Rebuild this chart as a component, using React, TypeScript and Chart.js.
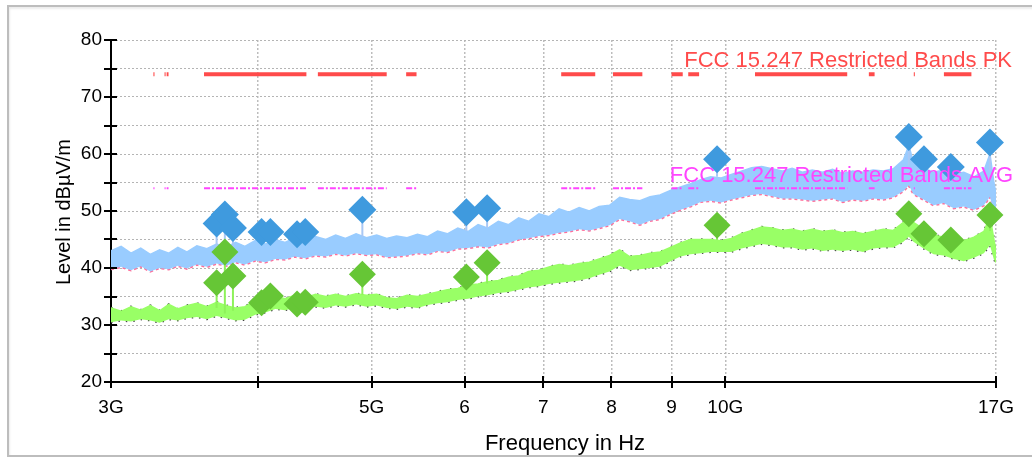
import React, { useEffect, useRef } from 'react';
import { Chart, registerables } from 'chart.js';

Chart.register(...registerables);

// Frequencies (GHz) for the measured traces
const freqs = [
  3.0, 3.06, 3.12, 3.18, 3.24, 3.3, 3.36, 3.42, 3.48, 3.55, 3.62, 3.69, 3.76, 3.83, 3.9, 3.98,
  4.06, 4.14, 4.22, 4.3, 4.39, 4.48, 4.57, 4.66, 4.75, 4.85, 4.95, 5.05, 5.15, 5.25, 5.36, 5.47,
  5.58, 5.69, 5.8, 5.92, 6.04, 6.16, 6.28, 6.41, 6.54, 6.67, 6.8, 6.94, 7.08, 7.22, 7.36, 7.51,
  7.66, 7.81, 7.97, 8.13, 8.29, 8.46, 8.63, 8.8, 8.98, 9.16, 9.34, 9.53, 9.72, 9.92, 10.12, 10.32,
  10.53, 10.74, 10.96, 11.18, 11.4, 11.63, 11.86, 12.1, 12.34, 12.59, 12.84, 13.1, 13.36, 13.63,
  13.9, 14.18, 14.33, 14.46, 14.75, 15.04, 15.34, 15.65, 15.96, 16.28, 16.6, 16.8, 16.93, 17.0,
];

// Peak trace (blue) upper / lower envelope, dBµV/m
const pkHigh = [
  43.0, 43.8, 42.6, 43.5, 42.4, 43.2, 42.6, 43.6, 42.8, 43.9, 43.4, 44.2, 43.6, 44.5, 43.8, 44.8,
  44.2, 45.0, 44.5, 45.3, 44.8, 45.5, 45.0, 45.8, 45.2, 46.0, 45.3, 45.8, 45.2, 45.6, 45.3, 45.9,
  45.5, 46.5, 46.0, 47.0, 46.4, 47.6, 47.0, 48.2, 47.6, 48.8, 48.2, 49.5, 49.0, 50.4, 49.8, 50.6,
  50.0, 50.8, 51.0, 52.4, 52.0, 51.8, 52.5, 52.8, 53.6, 54.2, 54.8, 55.5, 56.0, 55.8, 56.4, 57.0,
  57.6, 57.8, 57.4, 57.0, 57.5, 56.8, 57.2, 56.8, 57.3, 56.6, 57.0, 56.8, 57.2, 57.0,
  57.4, 59.0, 61.5, 58.5, 57.5, 56.8, 57.2, 56.5, 56.8, 56.0, 57.0, 60.0, 55.0, 53.0,
];
const pkLow = [
  39.8, 40.2, 39.6, 40.3, 39.4, 40.0, 39.8, 40.4, 39.9, 40.6, 40.2, 40.8, 40.4, 41.0, 40.6, 41.3,
  41.0, 41.6, 41.5, 42.0, 41.7, 42.2, 42.0, 42.5, 42.2, 42.6, 42.3, 42.4, 41.9, 42.0, 42.2, 42.6,
  42.4, 43.0, 42.8, 43.4, 43.5, 43.8, 43.6, 44.2, 44.4, 45.0, 45.2, 45.6, 45.8, 46.2, 46.4, 46.8,
  46.6, 47.0, 47.5, 48.6, 48.2, 47.6, 48.3, 48.6, 49.5, 50.2, 50.8, 51.6, 51.8, 51.5, 52.0, 52.4,
  52.8, 53.0, 52.6, 52.2, 52.2, 52.0, 51.8, 52.0, 52.2, 51.6, 52.0, 51.8, 52.2, 52.0,
  52.4, 53.5, 54.5, 53.0, 52.0, 51.0, 51.4, 50.5, 50.8, 50.2, 51.0, 52.5, 49.5, 49.0,
];

// Average trace (green) upper / lower envelope, dBµV/m
const avHigh = [
  33.0, 32.4, 33.2, 32.6, 33.4, 32.5, 33.6, 32.8, 33.4, 33.8, 33.2, 34.0, 33.4, 33.0, 33.2, 34.2,
  34.6, 35.0, 34.6, 35.2, 34.8, 35.4, 35.0, 35.4, 35.0, 35.5, 35.2, 35.4, 34.8, 34.6, 35.2, 35.0,
  35.4, 35.8, 36.2, 36.4, 37.0, 37.2, 37.6, 37.8, 38.4, 38.6, 39.4, 39.6, 40.2, 40.6, 40.4, 40.8,
  41.0, 41.6, 42.2, 43.2, 42.0, 42.2, 42.6, 42.8, 43.6, 44.4, 45.0, 45.0, 45.0, 44.8, 45.2, 46.0,
  46.6, 47.2, 47.0, 46.6, 46.8, 46.4, 46.8, 46.4, 46.6, 46.2, 46.4, 46.0, 46.4, 46.8,
  46.6, 48.0, 50.0, 48.0, 46.8, 45.8, 45.4, 45.0, 44.8, 45.4, 46.4, 49.0, 45.0, 43.0,
];
const avLow = [
  30.5, 30.8, 30.6, 31.0, 30.8, 30.4, 31.0, 30.8, 31.2, 31.4, 31.0, 31.6, 31.2, 30.8, 30.9, 31.8,
  32.2, 32.8, 32.6, 33.0, 33.0, 33.2, 33.0, 33.4, 33.2, 33.6, 33.2, 33.4, 33.0, 32.8, 33.2, 33.0,
  33.5, 33.8, 34.0, 34.4, 34.6, 35.0, 35.2, 35.6, 35.8, 36.2, 36.6, 36.8, 37.2, 37.4, 37.6, 37.8,
  38.2, 38.8, 39.4, 40.4, 39.6, 39.8, 40.0, 40.2, 41.2, 42.0, 42.4, 42.6, 42.8, 42.8, 42.8, 43.4,
  43.8, 44.2, 44.0, 43.6, 43.6, 43.2, 43.4, 43.0, 43.2, 43.0, 43.2, 42.8, 43.4, 43.6,
  43.6, 44.6, 45.5, 44.6, 43.4, 42.4, 42.2, 41.6, 41.2, 41.8, 42.6, 44.0, 41.5, 40.8,
];

// Final measurement markers
const markerFreqs = [3.69, 3.75, 3.81, 4.03, 4.1, 4.32, 4.39, 4.91, 6.02, 6.27, 9.84, 14.33, 14.76, 15.56, 16.8];
const pkMarkers = [47.8, 49.4, 47.0, 46.3, 46.3, 45.9, 46.3, 50.2, 49.8, 50.5, 59.1, 63.0, 59.1, 57.7, 62.0];
const avMarkers = [37.4, 42.8, 38.6, 33.9, 35.1, 33.7, 34.0, 38.9, 38.4, 40.9, 47.5, 49.5, 46.0, 44.9, 49.3];
const pkStemBase = [43.5, 43.5, 43.5, 44.5, 44.5, 45.0, 45.0, 45.5, 46.5, 47.0, 56.0, 58.0, 57.5, 56.5, 57.0];
const avStemBase = [33.0, 32.0, 32.5, 33.5, 34.5, 34.8, 34.8, 35.3, 36.6, 37.3, 45.0, 47.5, 46.5, 45.0, 46.5];

// FCC 15.205 restricted bands (GHz) and limits
const restrictedBands: [number, number][] = [
  [3.26, 3.267], [3.332, 3.339], [3.3458, 3.358], [3.6, 4.4], [4.5, 5.15], [5.35, 5.46],
  [7.25, 7.75], [8.025, 8.5], [9.0, 9.2], [9.3, 9.5], [10.6, 12.7], [13.25, 13.4],
  [14.47, 14.5], [15.35, 16.2],
];
const pkLimit = 74;
const avLimit = 54;
const pkLimitLabel = 'FCC 15.247 Restricted Bands PK';
const avLimitLabel = 'FCC 15.247 Restricted Bands AVG';

const xTickValues = [3, 4, 5, 6, 7, 8, 9, 10, 17];
const xTickLabels = ['3G', '', '5G', '6', '7', '8', '9', '10G', '17G'];
const yTickValues = [20, 25, 30, 35, 40, 45, 50, 55, 60, 65, 70, 75, 80];
const yTickLabels = ['20', '', '30', '', '40', '', '50', '', '60', '', '70', '', '80'];
const xTitle = 'Frequency in Hz';
const yTitle = 'Level in dBµV/m';

const FONT = 'Liberation Sans, Arial, sans-serif';

export default function App() {
  const ref = useRef<HTMLCanvasElement>(null);

  useEffect(() => {
    const canvas = ref.current;
    if (!canvas) return;

    const trace = (ys: number[]) => freqs.map((f, i) => ({ x: f, y: ys[i] }));
    const limitPts = (lim: number) => {
      const out: any[] = [];
      for (const [a, b] of restrictedBands) {
        out.push({ x: a, y: lim }, { x: b, y: lim }, { x: b, y: null });
      }
      return out;
    };
    const stemPts = (vals: number[], base: number[]) => {
      const out: any[] = [];
      markerFreqs.forEach((f, i) => {
        out.push({ x: f, y: vals[i] }, { x: f, y: base[i] }, { x: f, y: null });
      });
      return out;
    };
    const markerPts = (vals: number[]) => markerFreqs.map((f, i) => ({ x: f, y: vals[i] }));

    const overlay = {
      id: 'overlay',
      afterDraw(chart: any) {
        const { ctx, chartArea, scales } = chart;
        const xs = scales.x;
        const ys = scales.y;
        ctx.save();
        ctx.strokeStyle = '#000';
        ctx.lineWidth = 2;
        // tick marks crossing the axes
        for (const v of yTickValues) {
          const py = Math.round(ys.getPixelForValue(v));
          ctx.beginPath();
          ctx.moveTo(chartArea.left - 7, py);
          ctx.lineTo(chartArea.left + 6, py);
          ctx.stroke();
        }
        for (const v of xTickValues) {
          const px = Math.round(xs.getPixelForValue(v));
          ctx.beginPath();
          ctx.moveTo(px, chartArea.bottom - 6);
          ctx.lineTo(px, chartArea.bottom + 6);
          ctx.stroke();
        }
        // limit labels
        ctx.font = `22px ${FONT}`;
        ctx.textAlign = 'right';
        ctx.textBaseline = 'alphabetic';
        ctx.fillStyle = '#ff4b4b';
        ctx.fillText(pkLimitLabel, 1012, ys.getPixelForValue(pkLimit) - 7);
        ctx.fillStyle = '#ff45ff';
        ctx.fillText(avLimitLabel, 1013, ys.getPixelForValue(avLimit) - 6);
        // axis titles
        ctx.fillStyle = '#000';
        ctx.textAlign = 'center';
        ctx.font = `22px ${FONT}`;
        ctx.fillText(xTitle, 565, 450);
        ctx.translate(70, 212);
        ctx.rotate(-Math.PI / 2);
        ctx.font = `20px ${FONT}`;
        ctx.fillText(yTitle, 0, 0);
        ctx.restore();
      },
    };

    const chart = new Chart(canvas, {
      type: 'line',
      data: {
        datasets: [
          {
            label: 'PK markers', data: markerPts(pkMarkers), showLine: false,
            pointStyle: 'rectRot', pointRadius: 14, pointBackgroundColor: '#3f9ade',
            pointBorderColor: '#3f9ade', pointBorderWidth: 0, order: 0, clip: false,
          },
          {
            label: 'AVG markers', data: markerPts(avMarkers), showLine: false,
            pointStyle: 'rectRot', pointRadius: 13.5, pointBackgroundColor: '#66c636',
            pointBorderColor: '#66c636', pointBorderWidth: 0, order: 1, clip: false,
          },
          {
            label: 'PK limit', data: limitPts(pkLimit), borderColor: '#ff4b4b', borderWidth: 4,
            pointRadius: 0, spanGaps: false, borderCapStyle: 'butt', order: 2,
          },
          {
            label: 'AVG limit', data: limitPts(avLimit), borderColor: '#ff45ff', borderWidth: 2,
            borderDash: [6, 2, 2, 2], pointRadius: 0, spanGaps: false, borderCapStyle: 'butt', order: 2,
          },
          {
            label: 'PK stems', data: stemPts(pkMarkers, pkStemBase), borderColor: '#a9c8f5',
            borderWidth: 2, pointRadius: 0, spanGaps: false, order: 3,
          },
          {
            label: 'AVG stems', data: stemPts(avMarkers, avStemBase), borderColor: '#8ef25a',
            borderWidth: 2, pointRadius: 0, spanGaps: false, order: 3,
          },
          {
            label: 'PK high', data: trace(pkHigh), borderColor: '#99ccff', backgroundColor: '#99ccff',
            borderWidth: 1.5, pointRadius: 0, fill: 7, order: 4,
          },
          {
            label: 'PK low', data: trace(pkLow), borderColor: '#ff6f9a', borderWidth: 2.5,
            borderDash: [3, 3], pointRadius: 0, order: 5,
          },
          {
            label: 'AVG high', data: trace(avHigh), borderColor: '#99ff66', backgroundColor: '#99ff66',
            borderWidth: 1.5, pointRadius: 0, fill: 9, order: 6,
          },
          {
            label: 'AVG low', data: trace(avLow), borderColor: '#444444', borderWidth: 2,
            borderDash: [1.5, 6], pointRadius: 0, order: 7,
          },
          {
            label: 'AVG high dots', data: trace(avHigh), borderColor: '#444444', borderWidth: 2.5,
            borderDash: [1.5, 9], pointRadius: 0, order: 7,
          },
        ],
      },
      options: {
        responsive: false,
        animation: false,
        devicePixelRatio: 1,
        events: [],
        layout: { padding: { left: 0, top: 40, right: 36, bottom: 0 } },
        plugins: { legend: { display: false }, tooltip: { enabled: false } },
        elements: { line: { tension: 0 } },
        scales: {
          x: {
            type: 'logarithmic',
            min: 3,
            max: 17,
            afterBuildTicks: (s: any) => { s.ticks = xTickValues.map((v) => ({ value: v })); },
            afterFit: (s: any) => { s.height = 75; },
            ticks: {
              autoSkip: false, maxRotation: 0, padding: 14, color: '#000',
              font: { family: FONT, size: 19 },
              callback: (_v: any, i: number) => xTickLabels[i],
            },
            grid: { color: '#bdbdbd', lineWidth: 1.5, drawTicks: false },
            border: { color: '#000', width: 2, dash: [2, 2] },
          },
          y: {
            type: 'linear',
            min: 20,
            max: 80,
            afterBuildTicks: (s: any) => { s.ticks = yTickValues.map((v) => ({ value: v })); },
            afterFit: (s: any) => { s.width = 111; },
            ticks: {
              autoSkip: false, padding: 9, color: '#000',
              font: { family: FONT, size: 19 },
              callback: (_v: any, i: number) => yTickLabels[i],
            },
            grid: { color: '#b4b4b4', lineWidth: 1, drawTicks: false },
            border: { color: '#000', width: 2, dash: [2, 2] },
          },
        },
      },
      plugins: [overlay],
    } as any);

    return () => chart.destroy();
  }, []);

  return (
    <div style={{ position: 'fixed', left: 0, top: 0, width: 1032, height: 457, background: '#fff', overflow: 'hidden' }}>
      <div
        style={{
          position: 'absolute', left: 7, top: 5, width: 1100, height: 452, boxSizing: 'border-box',
          border: '2px solid #bdbdbd', boxShadow: 'inset 1px 2px 2px #ececec',
        }}
      />
      <canvas ref={ref} width={1032} height={457} style={{ position: 'absolute', left: 0, top: 0 }} />
    </div>
  );
}
